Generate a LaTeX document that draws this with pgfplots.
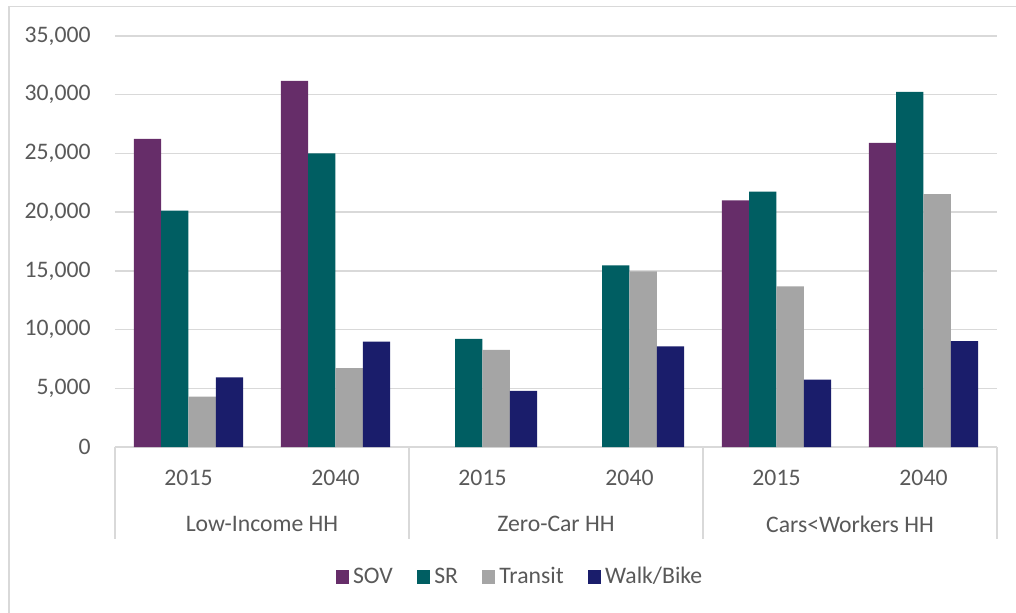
\documentclass[border=0pt]{standalone}
\usepackage{fontspec}
\setmainfont{Carlito}
\usepackage{pgfplots}
\pgfplotsset{compat=1.18}
\usepackage{pgfplotstable}
\definecolor{sov}{RGB}{102,45,105}
\definecolor{sr}{RGB}{0,94,98}
\definecolor{tr}{RGB}{165,165,165}
\definecolor{wb}{RGB}{26,29,107}
\definecolor{gridc}{RGB}{217,217,217}
\definecolor{txt}{RGB}{89,89,89}
\pgfplotstableread{
x SOV SR Transit Walk
0 26230 20120 4300 5920
1 31180 25010 6710 8980
2 nan 9200 8270 4770
3 nan 15460 14950 8560
4 21000 21740 13670 5740
5 25900 30240 21540 9010
}\data
\newcommand{\fsz}{\fontsize{11.85}{14}\selectfont}
\begin{document}
\begin{tikzpicture}[font=\fsz]
\useasboundingbox (-57.5pt,-82.5pt) rectangle (450.5pt,223.5pt);
\draw[gridc, line width=0.75pt] (-53pt,-120pt) -- (-53pt,220.25pt) -- (480pt,220.25pt);
\begin{axis}[
  scale only axis, width=441pt, height=205.5pt,
  xmin=-0.5, xmax=5.5, ymin=0, ymax=35000,
  ybar=0pt, bar width=0.186,
  axis lines*=left,
  y axis line style={draw=none},
  x axis line style={gridc, line width=0.75pt},
  ytick={0,5000,...,35000},
  ymajorgrids, major grid style={gridc, line width=0.75pt},
  xtick={0,1,2,3,4,5},
  xticklabels={2015,2040,2015,2040,2015,2040},
  major tick length=0pt,
  tick label style={text=txt, font=\fsz},
  yticklabel style={anchor=east, inner sep=0pt, xshift=-12pt},
  xticklabel style={anchor=center, inner sep=0pt, yshift=-15.5pt},
  scaled y ticks=false,
  unbounded coords=discard,
  /pgf/number format/.cd, fixed, 1000 sep={,}, assume math mode=true,
  /pgfplots/.cd,
  clip=false,
  legend columns=4,
  legend style={at={(0.4603,-0.3163)}, anchor=center, draw=none, fill=none,
    inner sep=0pt, text=txt, font=\fsz,
    /tikz/every even column/.append style={column sep=10pt}},
  sq/.style={legend image code/.code={\fill[##1] (0pt,-3.35pt) rectangle (6.7pt,3.35pt);}},
]
\addplot[fill=sov, draw=none, sq] table[x=x, y=SOV] {\data};
\addlegendentry{SOV}
\addplot[fill=sr, draw=none, sq] table[x=x, y=SR] {\data};
\addlegendentry{SR}
\addplot[fill=tr, draw=none, sq] table[x=x, y=Transit] {\data};
\addlegendentry{Transit}
\addplot[fill=wb, draw=none, sq] table[x=x, y=Walk] {\data};
\addlegendentry{Walk/Bike}
\draw[gridc, line width=0.75pt] (axis cs:-0.5,0) -- ++(0pt,-46pt);
\draw[gridc, line width=0.75pt] (axis cs:1.5,0) -- ++(0pt,-46pt);
\draw[gridc, line width=0.75pt] (axis cs:3.5,0) -- ++(0pt,-46pt);
\draw[gridc, line width=0.75pt] (axis cs:5.5,0) -- ++(0pt,-46pt);
\node[text=txt, yshift=-38.5pt] at (axis cs:0.5,0) {Low-Income HH};
\node[text=txt, yshift=-38.5pt] at (axis cs:2.5,0) {Zero-Car HH};
\node[text=txt, yshift=-38.5pt] at (axis cs:4.5,0) {Cars<Workers HH};
\end{axis}
\end{tikzpicture}
\end{document}
